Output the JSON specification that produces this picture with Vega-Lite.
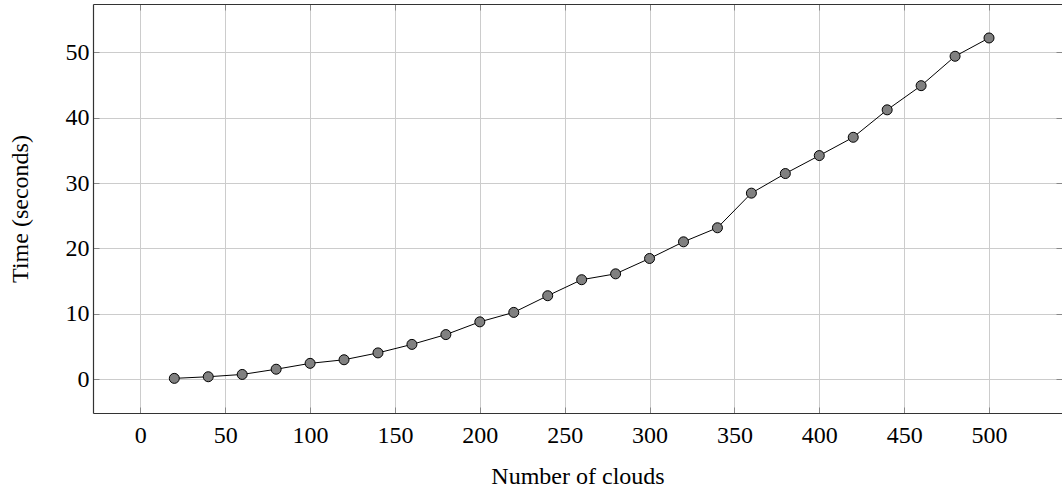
{
  "$schema": "https://vega.github.io/schema/vega-lite/v6.json",
  "autosize": {"type": "none"},
  "padding": {"left": 93, "top": 4, "right": 0, "bottom": 77},
  "width": 969,
  "height": 409,
  "config": {
    "view": {"stroke": null},
    "font": "Liberation Serif",
    "axis": {
      "labelFont": "Liberation Serif",
      "titleFont": "Liberation Serif",
      "labelFontSize": 24,
      "titleFontSize": 24,
      "titleFontWeight": "normal",
      "labelColor": "#000000",
      "titleColor": "#000000",
      "gridColor": "#cccccc",
      "gridWidth": 1,
      "domainColor": "#333333",
      "domainWidth": 1.2,
      "tickColor": "#888888",
      "tickWidth": 1
    }
  },
  "data": {
    "values": [
      {"clouds": 20, "time": 0.1},
      {"clouds": 40, "time": 0.35},
      {"clouds": 60, "time": 0.7},
      {"clouds": 80, "time": 1.5},
      {"clouds": 100, "time": 2.4},
      {"clouds": 120, "time": 2.95},
      {"clouds": 140, "time": 4.0},
      {"clouds": 160, "time": 5.3},
      {"clouds": 180, "time": 6.8},
      {"clouds": 200, "time": 8.75},
      {"clouds": 220, "time": 10.2},
      {"clouds": 240, "time": 12.75},
      {"clouds": 260, "time": 15.2},
      {"clouds": 280, "time": 16.1},
      {"clouds": 300, "time": 18.45},
      {"clouds": 320, "time": 21.0},
      {"clouds": 340, "time": 23.15},
      {"clouds": 360, "time": 28.45},
      {"clouds": 380, "time": 31.45},
      {"clouds": 400, "time": 34.2},
      {"clouds": 420, "time": 37.0},
      {"clouds": 440, "time": 41.2},
      {"clouds": 460, "time": 44.9},
      {"clouds": 480, "time": 49.4},
      {"clouds": 500, "time": 52.2}
    ]
  },
  "encoding": {
    "x": {
      "field": "clouds",
      "type": "quantitative",
      "scale": {"domain": [-27.9, 543], "nice": false, "zero": false},
      "axis": {
        "title": "Number of clouds",
        "values": [0, 50, 100, 150, 200, 250, 300, 350, 400, 450, 500],
        "grid": true,
        "tickSize": -6,
        "labelPadding": 16,
        "titlePadding": 17
      }
    },
    "y": {
      "field": "time",
      "type": "quantitative",
      "scale": {"domain": [-5.2, 57.4], "nice": false, "zero": false},
      "axis": {
        "title": "Time (seconds)",
        "values": [0, 10, 20, 30, 40, 50],
        "grid": true,
        "tickSize": -6,
        "labelPadding": 10,
        "titlePadding": 33
      }
    }
  },
  "layer": [
    {
      "mark": {"type": "line", "color": "#000000", "strokeWidth": 1}
    },
    {
      "mark": {"type": "circle", "fill": "#808080", "stroke": "#000000", "strokeWidth": 1, "size": 100, "opacity": 1},
      "encoding": {
        "x": {
          "field": "clouds",
          "type": "quantitative",
          "axis": {"orient": "top", "labels": false, "title": null, "grid": false, "tickSize": -6, "values": [0, 50, 100, 150, 200, 250, 300, 350, 400, 450, 500]}
        },
        "y": {
          "field": "time",
          "type": "quantitative",
          "axis": {"orient": "right", "labels": false, "title": null, "grid": false, "domain": false, "tickSize": -6, "values": [0, 10, 20, 30, 40, 50]}
        }
      }
    }
  ],
  "resolve": {"axis": {"x": "independent", "y": "independent"}}
}
